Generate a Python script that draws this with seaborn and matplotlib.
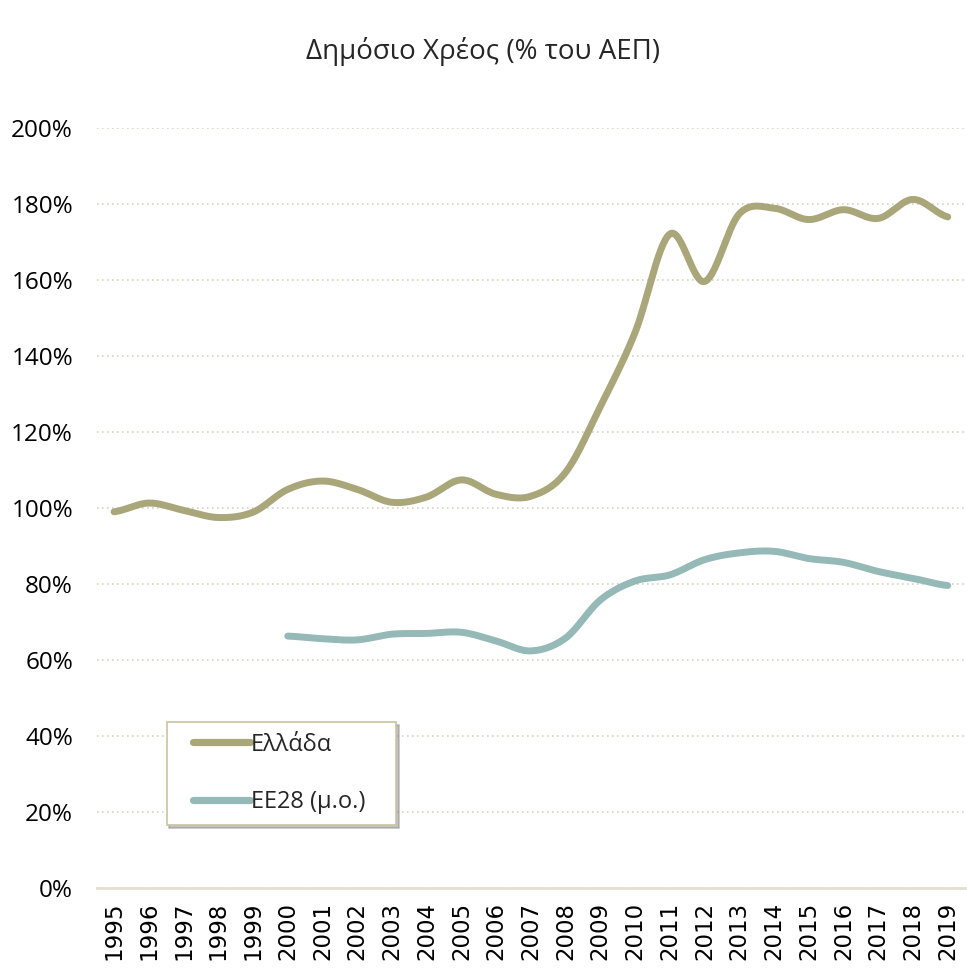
import seaborn as sns
import matplotlib.pyplot as plt
from matplotlib.legend_handler import HandlerLine2D
from matplotlib.offsetbox import DrawingArea
import pandas as pd
import numpy as np

# Data (% of GDP)
years = list(range(1995, 2020))
greece = [99.0, 101.3, 99.4, 97.5, 98.9, 104.9, 107.1, 104.9, 101.5, 102.9,
          107.4, 103.6, 103.1, 109.4, 126.7, 146.2, 172.1, 159.6, 177.4, 178.9,
          175.9, 178.5, 176.2, 181.2, 176.6]
eu_years = list(range(2000, 2020))
eu28 = [66.3, 65.6, 65.3, 66.8, 67.0, 67.3, 65.0, 62.4, 65.8, 75.8,
        80.8, 82.4, 86.4, 88.2, 88.6, 86.7, 85.7, 83.3, 81.5, 79.6]

title = "Δημόσιο Χρέος (% του ΑΕΠ)"
label_gr = "Ελλάδα"
label_eu = "ΕΕ28 (μ.ο.)"


def smooth(xs, ys, n=30):
    # Excel-like smoothed line (Catmull-Rom through the points)
    x = np.asarray(xs, float)
    y = np.asarray(ys, float)
    px = np.concatenate([[2 * x[0] - x[1]], x, [2 * x[-1] - x[-2]]])
    py = np.concatenate([[y[0]], y, [y[-1]]])
    out_x, out_y = [], []
    t = np.linspace(0, 1, n, endpoint=False)
    for i in range(1, len(px) - 2):
        for p, o in ((px, out_x), (py, out_y)):
            p0, p1, p2, p3 = p[i - 1], p[i], p[i + 1], p[i + 2]
            o.extend(0.5 * (2 * p1 + (-p0 + p2) * t
                            + (2 * p0 - 5 * p1 + 4 * p2 - p3) * t ** 2
                            + (-p0 + 3 * p1 - 3 * p2 + p3) * t ** 3))
    out_x.append(x[-1])
    out_y.append(y[-1])
    return np.array(out_x), np.array(out_y)


gx, gy = smooth(years, greece)
ex, ey = smooth(eu_years, eu28)
df = pd.concat([
    pd.DataFrame({'year': gx, 'value': gy, 'series': label_gr}),
    pd.DataFrame({'year': ex, 'value': ey, 'series': label_eu}),
])

sns.set_theme(style="white")
plt.rcParams['font.family'] = ['Open Sans', 'DejaVu Sans']

fig = plt.figure(figsize=(9.67, 9.68), dpi=100)
ax = fig.add_axes([0.100, 0.0826, 0.898, 0.7852])

sns.lineplot(data=df, x='year', y='value', hue='series', sort=False,
             palette={label_gr: '#a9a67a', label_eu: '#95b9b6'},
             linewidth=5.0, ax=ax, estimator=None)
for ln in ax.get_lines():
    ln.set_solid_capstyle('round')

ax.set_xlim(1994.5, 2019.5)
ax.set_ylim(0, 200)
ax.set_xticks(years)
ax.set_xticklabels([str(y) for y in years], rotation=90, family='DejaVu Sans', fontsize=16.5)
ax.set_yticks(range(0, 201, 20))
ax.set_yticklabels([f"{v}%" for v in range(0, 201, 20)], fontsize=17.5)
ax.tick_params(axis='x', length=0, pad=10, colors='black')
ax.tick_params(axis='y', length=0, pad=17, colors='black')
ax.set_xlabel('')
ax.set_ylabel('')

ax.grid(axis='y', linestyle=(0, (1, 2)), color='#d6d3c3', linewidth=1.2)
ax.grid(axis='x', visible=False)
for side in ['top', 'right', 'left']:
    ax.spines[side].set_visible(False)
ax.spines['bottom'].set_color('#e3e0d0')
ax.spines['bottom'].set_linewidth(2)

fig.suptitle(title, y=0.947, va='center', fontsize=20)

handles, labels = ax.get_legend_handles_labels()
leg = ax.legend(handles, labels, loc='lower left', bbox_to_anchor=(0.0806, 0.083),
                fontsize=17, frameon=True, fancybox=False, handlelength=3.07,
                handletextpad=0.05, borderpad=0.45, labelspacing=1.43, borderaxespad=0,
                handler_map={h: HandlerLine2D(xpad=0.65) for h in handles},
                shadow={'color': '#888888', 'alpha': 0.5})
leg.get_frame().set_edgecolor('#c8c4a0')
leg.get_frame().set_linewidth(1.2)
for h in leg.get_lines():
    h.set_linewidth(5.2)
    h.set_solid_capstyle('round')
# extra right padding inside the legend box
for col in leg._legend_handle_box.get_children():
    for row in col.get_children():
        row.get_children().append(DrawingArea(13.5, 1))

fig.savefig('out.png', dpi=100)
